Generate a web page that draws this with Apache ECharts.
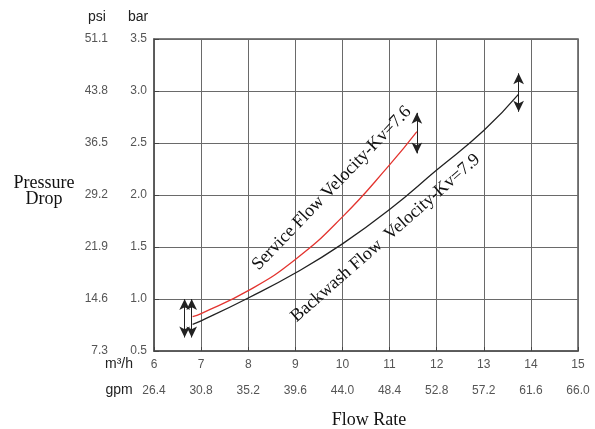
<!DOCTYPE html>
<html>
<head>
<meta charset="utf-8">
<script src="https://cdn.jsdelivr.net/npm/echarts@6/dist/echarts.min.js"></script>
<style>html,body{margin:0;padding:0;background:#fff}#c{width:595px;height:429px}</style>
</head>
<body>
<div id="c"></div>
<script>
// ---- data ----
const barTicks = [0.5, 1.0, 1.5, 2.0, 2.5, 3.0, 3.5];
const psiLabels = ['7.3', '14.6', '21.9', '29.2', '36.5', '43.8', '51.1'];
const m3hTicks = [6, 7, 8, 9, 10, 11, 12, 13, 14, 15];
const gpmLabels = ['26.4', '30.8', '35.2', '39.6', '44.0', '48.4', '52.8', '57.2', '61.6', '66.0'];

const serviceX = [6.82, 7, 8, 9, 10, 11, 11.58];
const serviceY = [0.83, 0.86, 1.08, 1.38, 1.79, 2.29, 2.61];
const backwashX = [6.82, 7, 8, 9, 10, 11, 12, 13, 13.74];
const backwashY = [0.757, 0.79, 1.01, 1.25, 1.53, 1.86, 2.24, 2.62, 2.97];

const arrowX = [6.65, 6.80, 11.58, 13.74];
const arrowLow = [0.63, 0.63, 2.40, 2.80];
const arrowHigh = [1.0, 1.0, 2.79, 3.17];

const serviceLabel = 'Service Flow Velocity-Kv=7.6';
const backwashLabel = 'Backwash Flow  Velocity-Kv=7.9';
const serviceLabelAt = [9.91, 2.005];
const backwashLabelAt = [11.04, 1.52];

// ---- chart ----
const chart = echarts.init(document.getElementById('c'), null, {renderer: 'canvas'});
const pairs = (xs, ys) => xs.map((x, i) => [x, ys[i]]);
const arrowLines = arrowX.map((x, i) => [{coord: [x, arrowLow[i]]}, {coord: [x, arrowHigh[i]]}]);

const tickFont = {fontFamily: 'Liberation Sans, Arial, sans-serif', fontSize: 12, color: '#555'};

const option = {
  animation: false,
  backgroundColor: '#fff',
  grid: {left: 154, right: 17, top: 39, bottom: 78, show: true, borderColor: '#555', borderWidth: 1.5, backgroundColor: 'transparent'},
  xAxis: [
    {type: 'value', min: 6, max: 15, interval: 1, position: 'bottom',
     axisLine: {show: true, lineStyle: {color: '#555', width: 1.5}},
     axisTick: {show: true, inside: true, length: 4, lineStyle: {color: '#444'}},
     splitLine: {show: true, lineStyle: {color: '#6a6a6a', width: 1}},
     axisLabel: Object.assign({margin: 8, showMinLabel: true, showMaxLabel: true}, tickFont)},
    {type: 'value', min: 6, max: 15, interval: 1, position: 'bottom', offset: 26,
     axisLine: {show: false}, axisTick: {show: false}, splitLine: {show: false},
     axisLabel: Object.assign({margin: 8, showMinLabel: true, showMaxLabel: true,
       formatter: v => gpmLabels[m3hTicks.indexOf(Math.round(v))] || ''}, tickFont)}
  ],
  yAxis: [
    {type: 'value', min: 0.5, max: 3.5, interval: 0.5, position: 'left',
     axisLine: {show: true, lineStyle: {color: '#555', width: 1.5}},
     axisTick: {show: true, inside: true, length: 5, lineStyle: {color: '#444'}},
     splitLine: {show: true, lineStyle: {color: '#6a6a6a', width: 1}},
     axisLabel: Object.assign({margin: 7, formatter: v => v.toFixed(1)}, tickFont)},
    {type: 'value', min: 0.5, max: 3.5, interval: 0.5, position: 'left',
     axisLine: {show: false}, axisTick: {show: false}, splitLine: {show: false},
     axisLabel: Object.assign({margin: 46,
       formatter: v => psiLabels[barTicks.findIndex(b => Math.abs(b - v) < 1e-6)] || ''}, tickFont)}
  ],
  series: [
    {name: 'Service', type: 'line', smooth: true, symbol: 'none', data: pairs(serviceX, serviceY),
     lineStyle: {color: '#e3342f', width: 1.3}, z: 5},
    {name: 'Backwash', type: 'line', smooth: true, symbol: 'none', data: pairs(backwashX, backwashY),
     lineStyle: {color: '#222', width: 1.3}, z: 5,
     markLine: {silent: true, symbol: ['arrow', 'arrow'], symbolSize: [8, 11],
       label: {show: false}, lineStyle: {color: '#222', type: 'solid', width: 1},
       emphasis: {disabled: true}, data: arrowLines}}
  ]
};
chart.setOption(option);

const hdr = {fontFamily: 'Liberation Sans, Arial, sans-serif', fontSize: 14, fill: '#222'};
const serif = {fontFamily: 'Liberation Serif, Times New Roman, serif', fontSize: 18, fill: '#111'};
const sp = chart.convertToPixel({gridIndex: 0}, serviceLabelAt);
const bp = chart.convertToPixel({gridIndex: 0}, backwashLabelAt);
chart.setOption({
  graphic: [
    {type: 'text', x: 97, y: 17, style: Object.assign({text: 'psi', align: 'center', verticalAlign: 'middle'}, hdr)},
    {type: 'text', x: 138, y: 17, style: Object.assign({text: 'bar', align: 'center', verticalAlign: 'middle'}, hdr)},
    {type: 'text', x: 119, y: 364, style: Object.assign({text: 'm³/h', align: 'center', verticalAlign: 'middle'}, hdr)},
    {type: 'text', x: 119, y: 390, style: Object.assign({text: 'gpm', align: 'center', verticalAlign: 'middle'}, hdr)},
    {type: 'text', x: 44, y: 191, style: Object.assign({text: 'Pressure\nDrop', align: 'center', verticalAlign: 'middle', lineHeight: 16}, serif)},
    {type: 'text', x: 369, y: 420, style: Object.assign({text: 'Flow Rate', align: 'center', verticalAlign: 'middle'}, serif)},
    {type: 'text', x: sp[0], y: sp[1], rotation: 46 * Math.PI / 180,
     style: Object.assign({text: serviceLabel, align: 'center', verticalAlign: 'bottom'}, serif)},
    {type: 'text', x: bp[0], y: bp[1], rotation: 41.3 * Math.PI / 180,
     style: Object.assign({text: backwashLabel, align: 'center', verticalAlign: 'bottom'}, serif)}
  ]
});
</script>
</body>
</html>
